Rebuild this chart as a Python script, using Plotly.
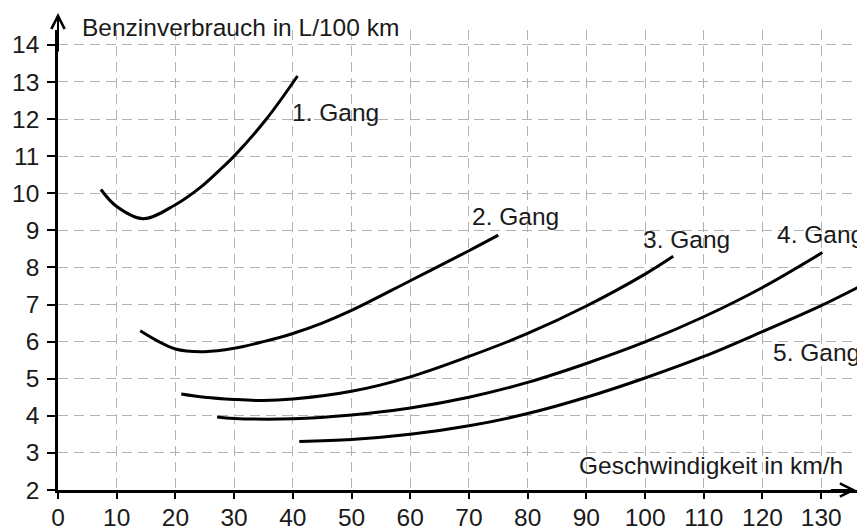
import plotly.graph_objects as go

# ---- data ----
g1_x = [7.3, 10, 14.5, 20, 24.2, 27.9, 30, 35.5, 40.8]
g1_y = [10.1, 9.64, 9.31, 9.69, 10.15, 10.68, 11.0, 12.0, 13.16]

g2_x = [14, 20, 25, 30, 35, 40, 45, 50, 60, 70, 75]
g2_y = [6.29, 5.8, 5.73, 5.82, 6.0, 6.22, 6.5, 6.84, 7.64, 8.45, 8.87]

g3_x = [21, 25, 30, 35, 40, 50, 60, 70, 80, 90, 100, 104.8]
g3_y = [4.59, 4.5, 4.44, 4.41, 4.45, 4.66, 5.05, 5.6, 6.22, 6.96, 7.82, 8.3]

g4_x = [27.1, 30, 40, 50, 60, 70, 80, 90, 100, 110, 120, 130.2]
g4_y = [3.97, 3.93, 3.92, 4.02, 4.21, 4.5, 4.9, 5.41, 5.99, 6.67, 7.46, 8.4]

g5_x = [41.1, 50, 60, 70, 80, 90, 100, 110, 120, 130, 136.5]
g5_y = [3.31, 3.36, 3.5, 3.73, 4.06, 4.5, 5.02, 5.6, 6.27, 6.97, 7.48]

gear_names = ["1. Gang", "2. Gang", "3. Gang", "4. Gang", "5. Gang"]
label_x = [39.5, 70.2, 99.3, 122.1, 121.5]
label_y = [12.17, 9.36, 8.74, 8.9, 5.72]

x_ticks = list(range(0, 140, 10))
y_ticks = list(range(2, 15))

x_title = "Geschwindigkeit in km/h"
y_title = "Benzinverbrauch in L/100 km"

FONT = "Liberation Sans"
FS = 24.5
TXT = "#1a1a1a"

fig = go.Figure()
for xs, ys, name in zip([g1_x, g2_x, g3_x, g4_x, g5_x],
                        [g1_y, g2_y, g3_y, g4_y, g5_y], gear_names):
    fig.add_trace(go.Scatter(x=xs, y=ys, mode="lines", name=name,
                             line=dict(color="black", width=3, shape="spline", smoothing=1.0),
                             hoverinfo="skip", showlegend=False))

for name, lx, ly in zip(gear_names, label_x, label_y):
    fig.add_annotation(x=lx, y=ly, text=name, showarrow=False, xanchor="left", yanchor="middle",
                       font=dict(family=FONT, size=FS, color=TXT))

fig.add_annotation(x=111.2, y=2.67, text=x_title, showarrow=False, xanchor="center", yanchor="middle",
                   font=dict(family=FONT, size=FS, color=TXT))
fig.add_annotation(xref="paper", yref="paper", x=0.028, y=1.0065, text=y_title, showarrow=False,
                   xanchor="left", yanchor="middle", font=dict(family=FONT, size=FS, color=TXT))

# y-axis arrow (above plot area)
fig.add_annotation(xref="paper", yref="paper", x=0, y=1.037, ax=0, ay=40, axref="pixel", ayref="pixel",
                   text="", showarrow=True, arrowhead=5, arrowsize=1.3, arrowwidth=2, arrowcolor="black")
# x-axis arrow (at right edge, mostly clipped)
fig.add_annotation(xref="paper", yref="paper", x=1.003, y=0, ax=-30, ay=0, axref="pixel", ayref="pixel",
                   text="", showarrow=True, arrowhead=5, arrowsize=1.3, arrowwidth=2, arrowcolor="black")

grid = dict(showgrid=True, gridcolor="#b3b3b3", gridwidth=1.3, griddash="10px,6px")

fig.update_xaxes(range=[0, 136.1], tickvals=x_ticks, ticktext=[str(v) for v in x_ticks],
                 showline=True, linecolor="black", linewidth=2.5, ticks="outside", ticklen=6,
                 tickwidth=1.5, tickcolor="black", zeroline=False, automargin=False,
                 ticklabelstandoff=-2,
                 tickfont=dict(family=FONT, size=FS, color=TXT), **grid)
fig.update_yaxes(range=[2, 14.4], tickvals=y_ticks, ticktext=[str(v) for v in y_ticks],
                 showline=True, linecolor="black", linewidth=2.5, ticks="outside", ticklen=8,
                 tickwidth=1.5, tickcolor="black", zeroline=False, automargin=False,
                 ticklabelstandoff=3,
                 tickfont=dict(family=FONT, size=FS, color=TXT), **grid)

fig.update_layout(width=857, height=531, margin=dict(l=58, r=0, t=30, b=41, pad=0, autoexpand=False),
                  plot_bgcolor="white", paper_bgcolor="white", showlegend=False)

fig.write_html("out.html", config={"displayModeBar": False},
               post_script="document.body.style.margin='0';document.body.style.overflow='hidden';")
